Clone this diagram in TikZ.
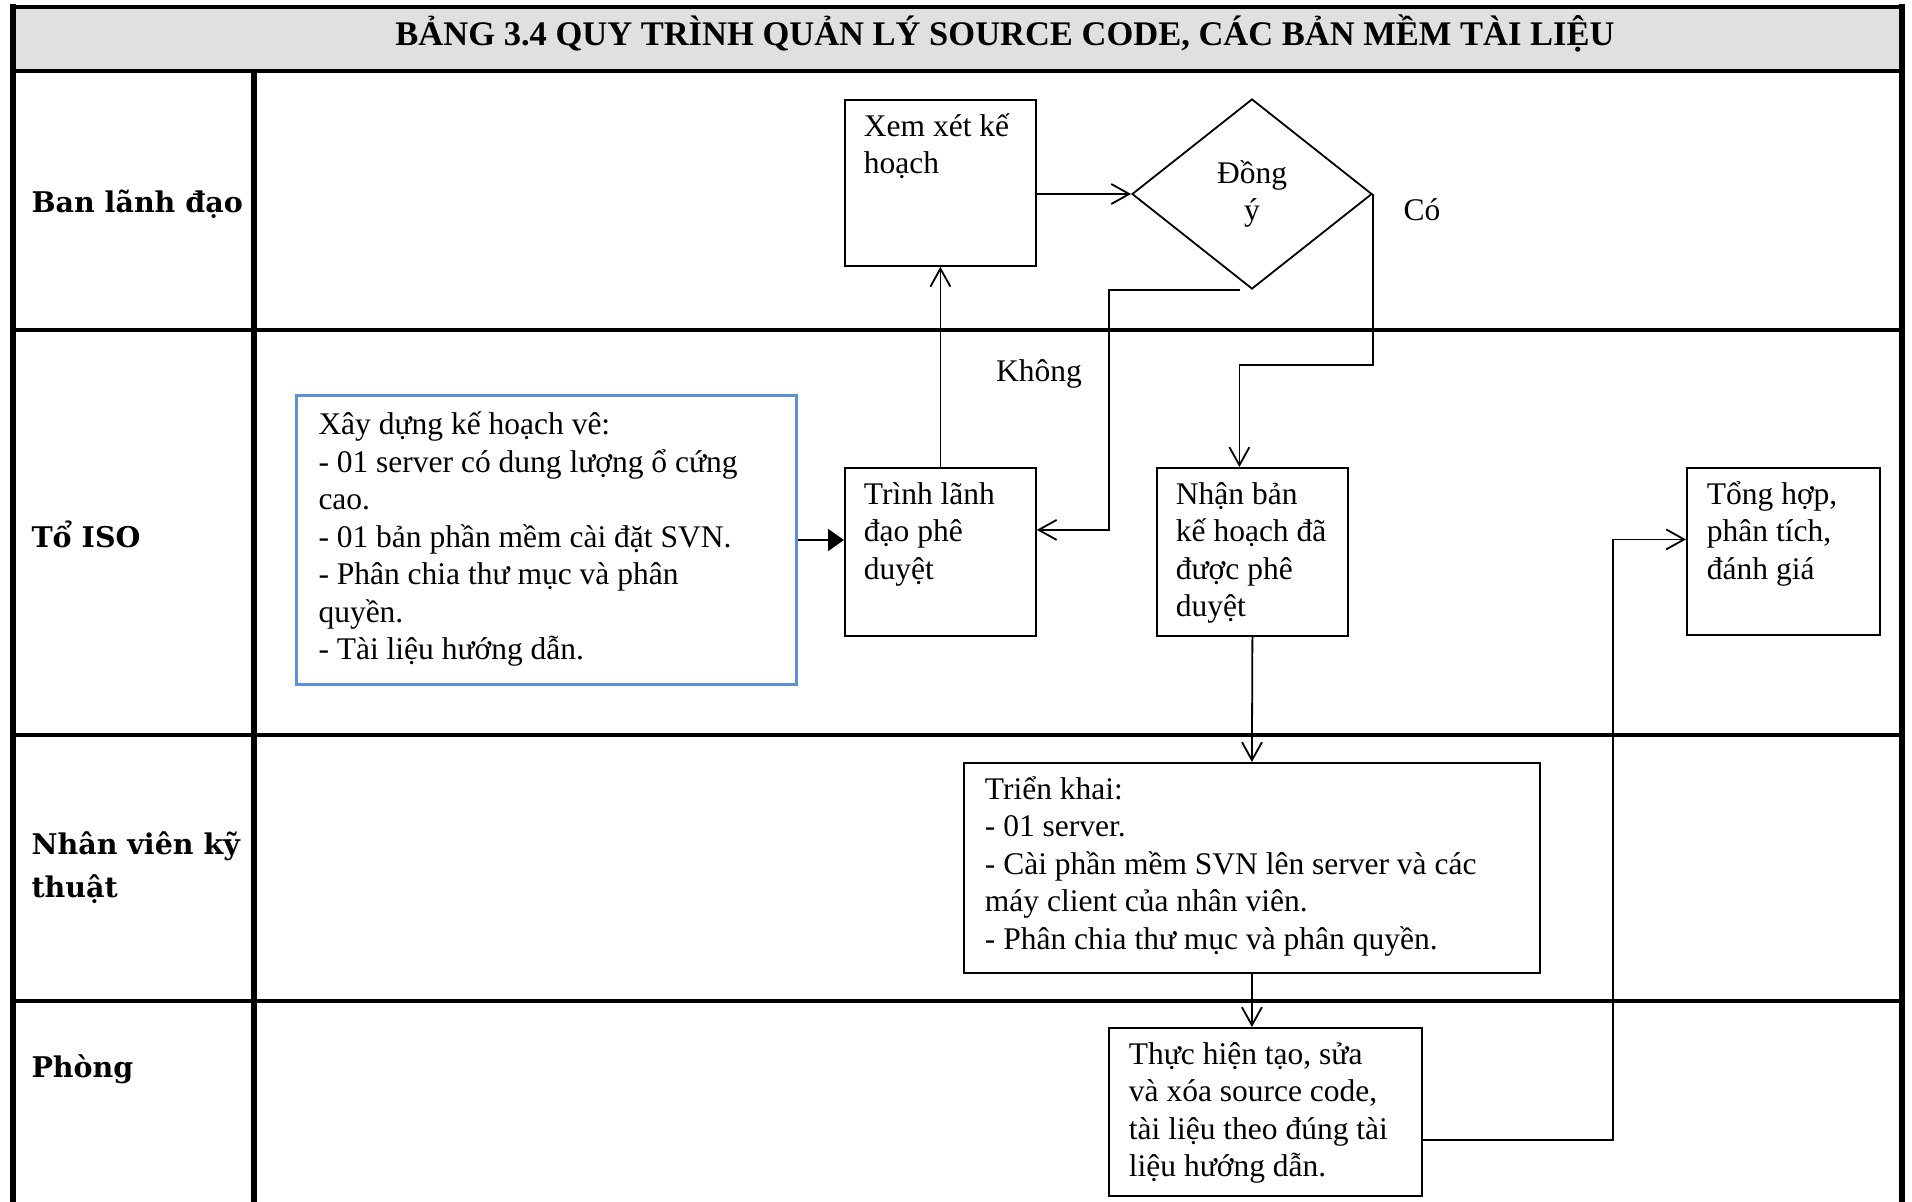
\documentclass[tikz,border=0pt]{standalone}
\usepackage{fontspec}
\setmainfont{Liberation Serif}
\newfontfamily\lanefont{DejaVu Serif}
\usetikzlibrary{positioning,shapes.geometric,arrows.meta}
\definecolor{headgray}{HTML}{E0E0E0}
\definecolor{planblue}{HTML}{5B8FD6}
\newcommand{\bodysize}{\fontsize{31.5}{37.5}\selectfont}
\newcommand{\boxtext}[3]{\parbox[c][#2][t]{#1}{\raggedright\strut#3}}

\begin{document}
\begin{tikzpicture}[x=1pt,y=-1pt,
stepbox/.style={
  draw,
  line width=1.8pt,
  inner xsep=19pt,
  inner ysep=10pt,
  anchor=north west,
  font=\bodysize
  },
planbox/.style={
  stepbox,
  draw=planblue,
  line width=3pt,
  inner xsep=22pt,
  inner ysep=13pt
  },
choice/.style={
  draw,
  diamond,
  line width=1.8pt,
  minimum width=240pt,
  minimum height=190pt,
  inner sep=0pt,
  align=center,
  font=\bodysize
  },
lane/.style={
  anchor=west,
  align=left,
  font=\lanefont\bfseries\fontsize{28.5}{43}\selectfont
  },
lbl/.style={font=\bodysize},
flow/.style={line width=1.8pt, -{Straight Barb[length=18pt,width=20pt]}},
rule/.style={line width=3.5pt},
frame/.style={line width=6pt}
]
\useasboundingbox (0,0) rectangle (1912,1202);

\fill[headgray] (13,8) rectangle (1902,72);
\node (title) at (1005,34) {\bfseries\fontsize{34.5}{40}\selectfont BẢNG 3.4 QUY TRÌNH QUẢN LÝ SOURCE CODE, CÁC BẢN MỀM TÀI LIỆU};

\draw[line width=3.5pt] (10,7) -- (1905,7);
\draw[line width=4pt] (13,71) -- (1902,71);
\foreach \ly in {330,735,1001}
  \draw[rule] (13,\ly) -- (1902,\ly);
\draw[frame] (13,4) -- (13,1202);
\draw[frame] (1902,4) -- (1902,1202);
\draw[frame] (254,71) -- (254,1202);

\node[lane] (lead) at (28,204) {Ban lãnh đạo};
\node[lane] (iso) at (28,534) {Tổ ISO};
\node[lane] (tech) at (28,868) {Nhân viên kỹ\\thuật};
\node[lane] (dept) at (28,1069) {Phòng};

\node[stepbox] (xem) at (844,99) {\boxtext{153pt}{146pt}{Xem xét kế\\hoạch}};
\node[choice] (dongy) at (1252,194) {Đồng\\ý};
\node[planbox] (xay) at (295,394) {\boxtext{456pt}{263pt}{Xây dựng kế hoạch vê:\\- 01 server có dung lượng ổ cứng\\cao.\\- 01 bản phần mềm cài đặt SVN.\\- Phân chia thư mục và phân\\quyền.\\- Tài liệu hướng dẫn.}};
\node[stepbox] (trinh) at (844,467) {\boxtext{153pt}{148pt}{Trình lãnh\\đạo phê\\duyệt}};
\node[stepbox] (nhan) at (1156,467) {\boxtext{153pt}{148pt}{Nhận bản\\kế hoạch đã\\được phê\\duyệt}};
\node[stepbox, inner xsep=20pt] (tong) at (1686,467) {\boxtext{153pt}{147pt}{Tổng hợp,\\phân tích,\\đánh giá}};
\node[stepbox, inner xsep=21pt] (trien) at (963,762) {\boxtext{534pt}{190pt}{Triển khai:\\- 01 server.\\- Cài phần mềm SVN lên server và các\\máy client của nhân viên.\\- Phân chia thư mục và phân quyền.}};
\node[stepbox, inner xsep=20pt] (thuc) at (1108,1027) {\boxtext{273pt}{148pt}{Thực hiện tạo, sửa\\và xóa source code,\\tài liệu theo đúng tài\\liệu hướng dẫn.}};

\node[lbl] (khong) at (1039,374) {Không};
\node[lbl] (co) at (1422,210) {Có};

\draw[-{Triangle[length=16pt,width=22pt]}, line width=1.8pt] (xay.east) -- (xay.east -| trinh.west);
\draw[flow] (trinh.north) -- (xem.south);
\draw[flow] (xem.east |- dongy.west) -- (dongy.west);
\draw[flow] ([xshift=-12pt]dongy.south) -- ++(-131,0) |- ([yshift=22pt]trinh.east);
\draw[flow] (dongy.east) -- ++(0,171) -| ([xshift=-13pt]nhan.north);
\draw[flow] (nhan.south) -- (trien.north);
\draw[flow] (trien.south) -- (trien.south |- thuc.north);
\draw[flow] ([yshift=-28pt]thuc.east) -- ++(190,0) |- ([yshift=12pt]tong.west);
\end{tikzpicture}
\end{document}
